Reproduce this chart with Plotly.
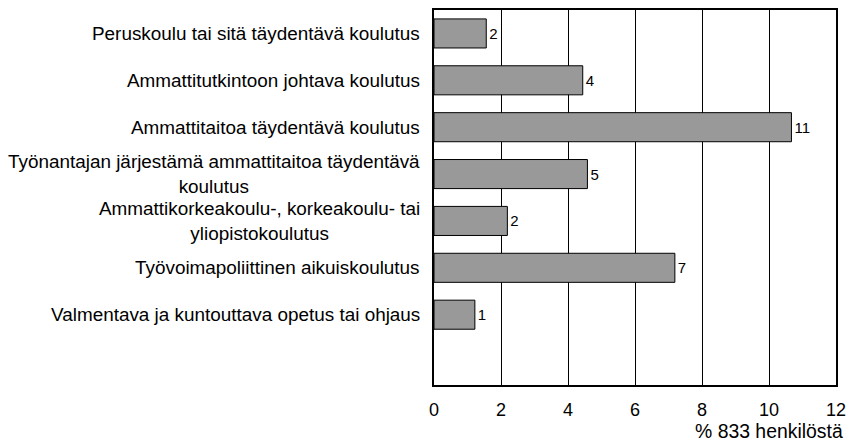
import plotly.graph_objects as go

categories = [
    "Peruskoulu tai sitä täydentävä koulutus",
    "Ammattitutkintoon johtava koulutus",
    "Ammattitaitoa täydentävä koulutus",
    "Työnantajan järjestämä ammattitaitoa täydentävä<br>koulutus",
    "Ammattikorkeakoulu-, korkeakoulu- tai<br>yliopistokoulutus",
    "Työvoimapoliittinen aikuiskoulutus",
    "Valmentava ja kuntouttava opetus tai ohjaus",
]
values = [1.56, 4.44, 10.67, 4.58, 2.19, 7.19, 1.22]
x_ticks = [0, 2, 4, 6, 8, 10, 12]
x_title = "% 833 henkilöstä"

FONT = "Liberation Sans, Arial, sans-serif"
ypos = list(range(len(categories)))

fig = go.Figure()
fig.add_trace(go.Bar(
    x=values, y=ypos, orientation="h",
    marker=dict(color="#999999", line=dict(color="#000000", width=1)),
    width=0.62,
    text=[f"{v:.0f}" for v in values],
    textposition="outside",
    textfont=dict(family=FONT, size=15, color="#000"),
    cliponaxis=False,
    hoverinfo="skip",
))

for i, c in enumerate(categories):
    fig.add_annotation(
        x=0, xref="paper", y=i, yref="y",
        text=c, showarrow=False, xanchor="right", yanchor="middle",
        align="center", xshift=-12,
        font=dict(family=FONT, size=18.9, color="#000"),
    )

fig.add_annotation(
    x=1, xref="paper", y=0, yref="paper", text=x_title, showarrow=False,
    xanchor="right", yanchor="middle", yshift=-46, xshift=9,
    font=dict(family=FONT, size=19.4, color="#000"),
)

fig.update_layout(
    width=854, height=444,
    margin=dict(l=434, r=14, t=8, b=59),
    paper_bgcolor="white", plot_bgcolor="white",
    showlegend=False,
    xaxis=dict(
        range=[0, 12], tickvals=x_ticks, ticks="", showgrid=True,
        gridcolor="#000000", gridwidth=1, zeroline=False,
        showline=True, linecolor="#000", linewidth=1.5, mirror=True,
        tickfont=dict(family=FONT, size=18, color="#000"), ticklabelstandoff=8,
    ),
    yaxis=dict(
        range=[7.5, -0.5], showticklabels=False, ticks="", showgrid=False,
        zeroline=False, showline=True, linecolor="#000", linewidth=1.5, mirror=True,
    ),
)

fig.write_html(
    "out.html",
    config={"displayModeBar": False},
    post_script="document.body.style.margin='0px';document.body.style.overflow='hidden';",
)
